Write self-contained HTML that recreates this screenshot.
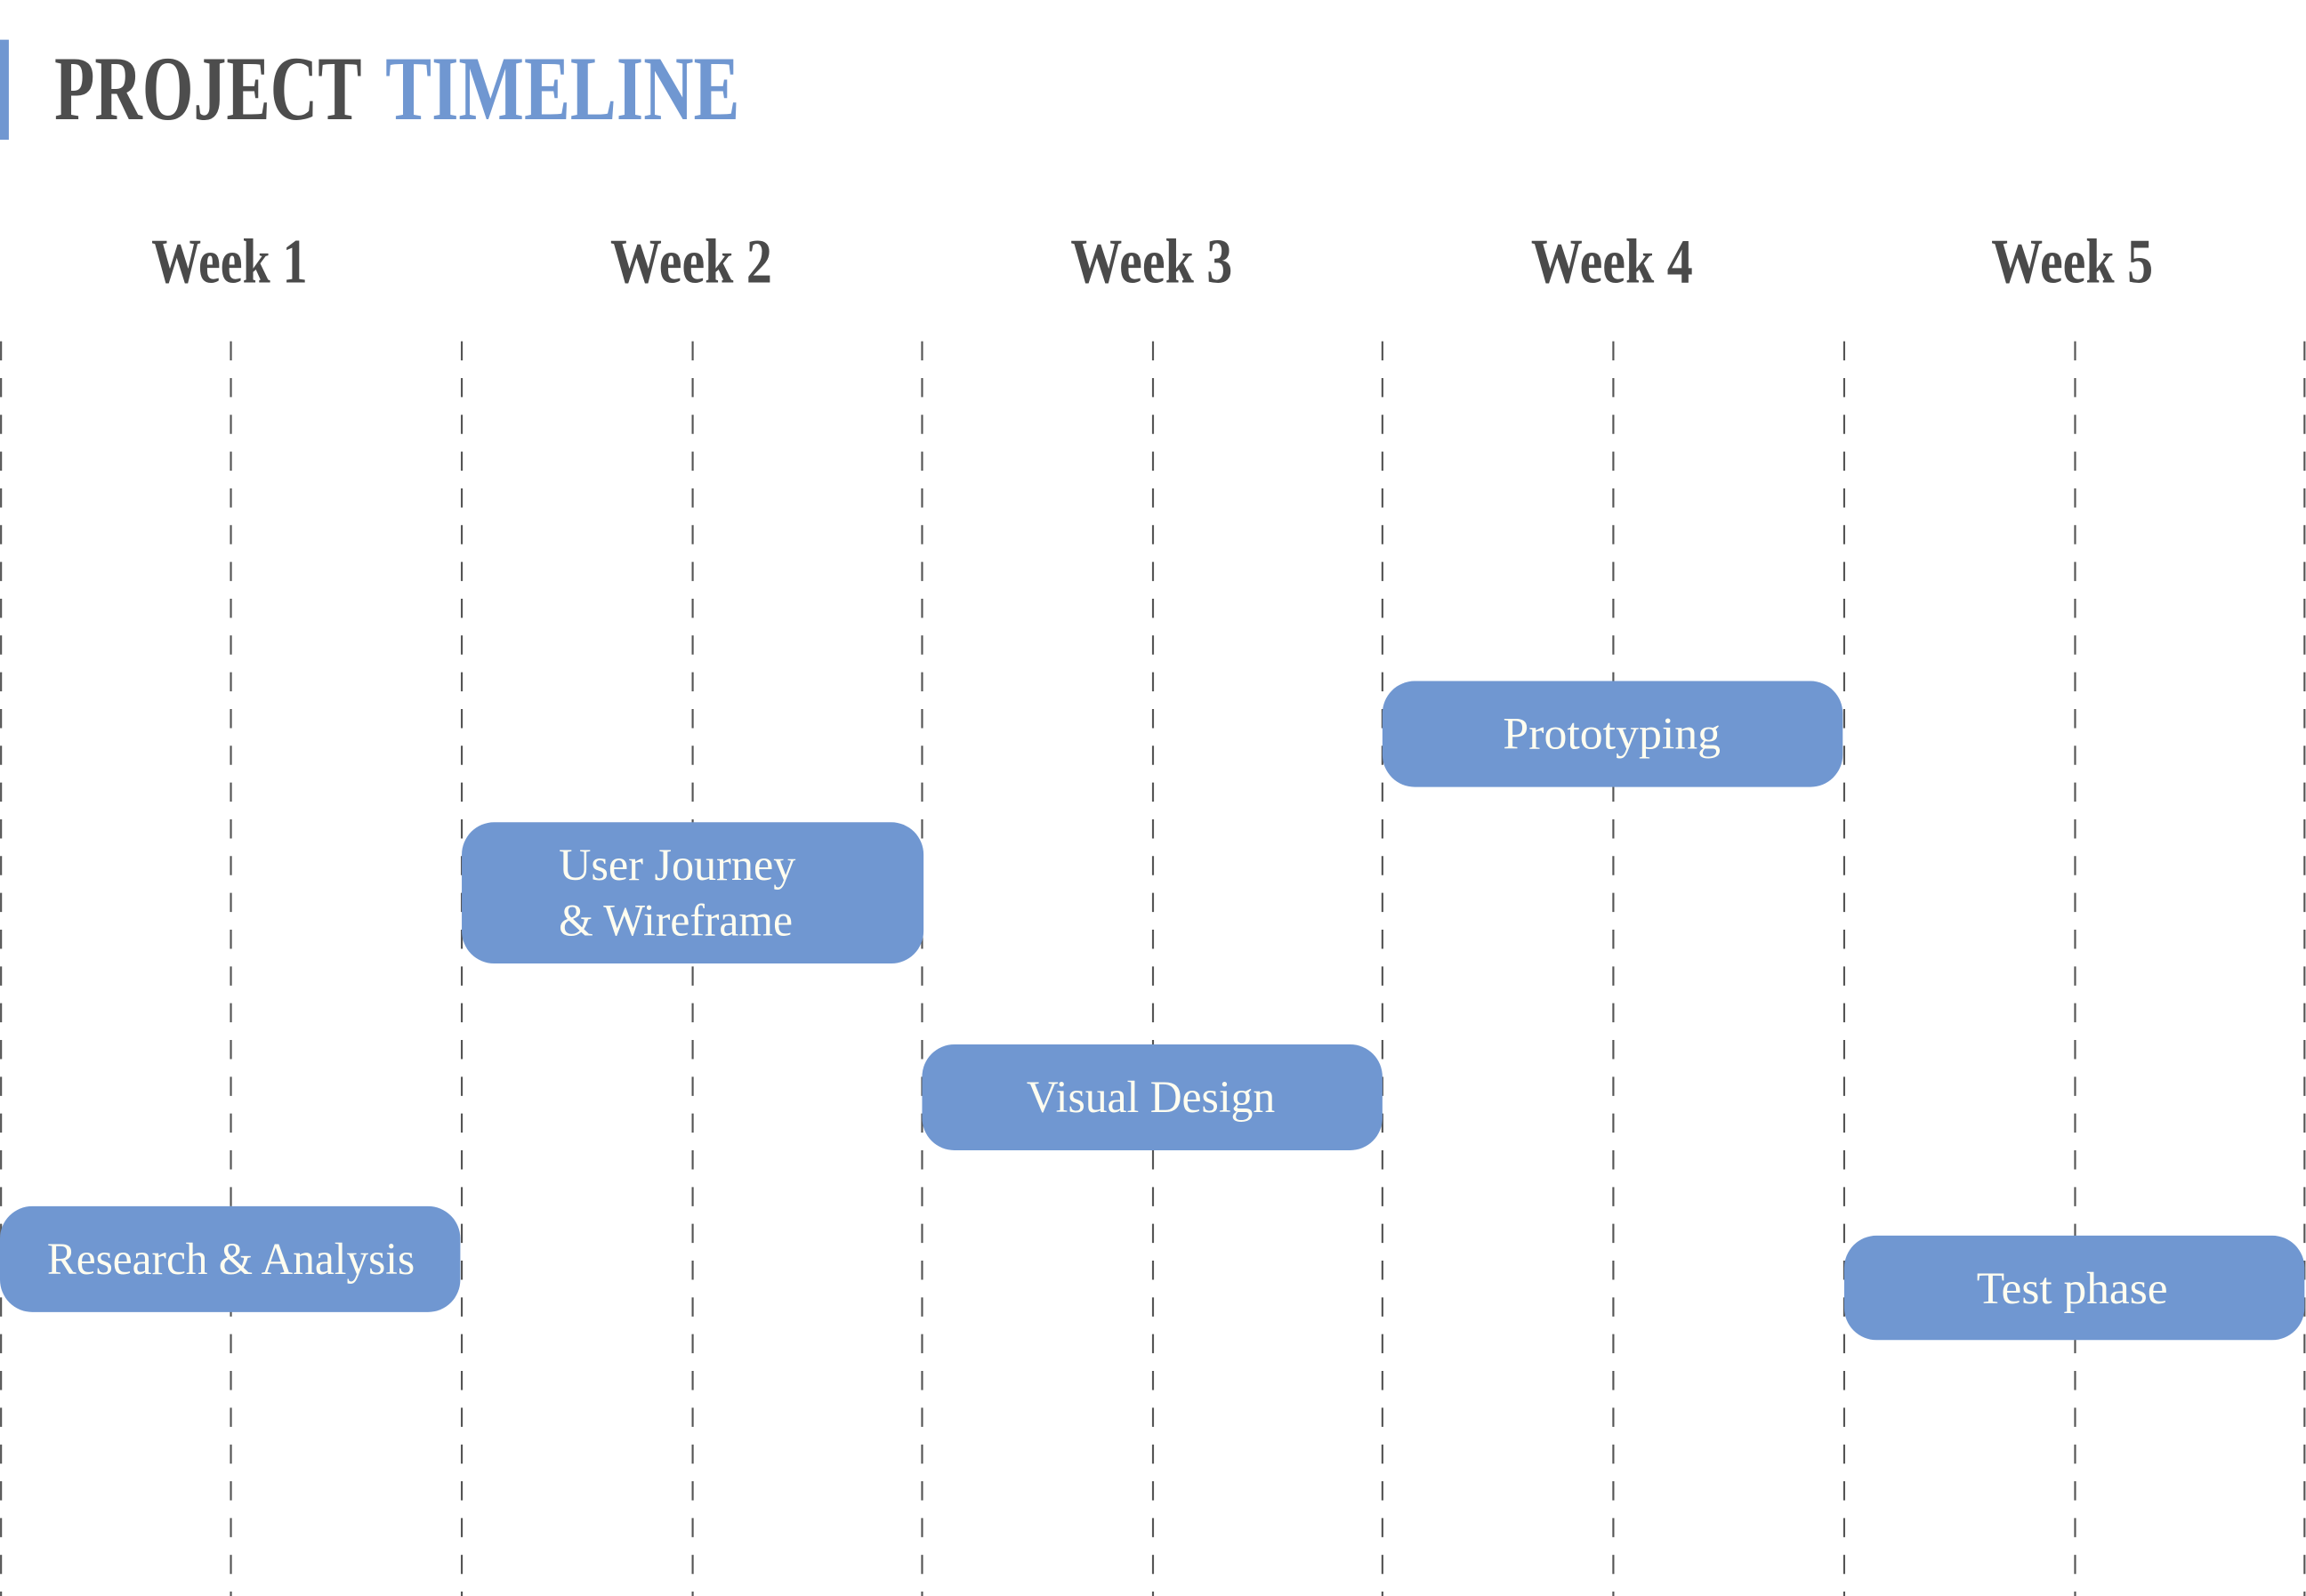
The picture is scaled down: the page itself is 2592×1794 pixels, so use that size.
<!DOCTYPE html>
<html><head><meta charset="utf-8"><style>
html,body{margin:0;padding:0;background:#fff;}
svg{display:block;}
</style></head><body>
<svg width="2592" height="1794" viewBox="0 0 1568 1085" preserveAspectRatio="none" xmlns="http://www.w3.org/2000/svg">
<rect x="0" y="0" width="1568" height="1085" fill="#fff"/>
<rect x="0" y="27" width="6" height="68" fill="#7097d1"/>
<g font-family="Liberation Serif, serif">
<text x="37" y="81" font-size="62" font-weight="bold" fill="#4d4d4d" textLength="209" lengthAdjust="spacingAndGlyphs">PROJECT</text>
<text x="262" y="81" font-size="62" font-weight="bold" fill="#7097d1" textLength="241" lengthAdjust="spacingAndGlyphs">TIMELINE</text>
<g font-size="43" fill="#4a4a4a" font-weight="bold">
<text x="103" y="192" textLength="106" lengthAdjust="spacingAndGlyphs">Week 1</text>
<text x="415" y="192" textLength="110" lengthAdjust="spacingAndGlyphs">Week 2</text>
<text x="728" y="192" textLength="110" lengthAdjust="spacingAndGlyphs">Week 3</text>
<text x="1041" y="192" textLength="110" lengthAdjust="spacingAndGlyphs">Week 4</text>
<text x="1354" y="192" textLength="110" lengthAdjust="spacingAndGlyphs">Week 5</text>
</g>
</g>
<g stroke="#555" stroke-width="1.3" stroke-dasharray="13 12">
<line x1="0.7" y1="232" x2="0.7" y2="1085"/>
<line x1="157" y1="232" x2="157" y2="1085"/>
<line x1="314" y1="232" x2="314" y2="1085"/>
<line x1="471" y1="232" x2="471" y2="1085"/>
<line x1="627" y1="232" x2="627" y2="1085"/>
<line x1="784" y1="232" x2="784" y2="1085"/>
<line x1="940" y1="232" x2="940" y2="1085"/>
<line x1="1097" y1="232" x2="1097" y2="1085"/>
<line x1="1254" y1="232" x2="1254" y2="1085"/>
<line x1="1411" y1="232" x2="1411" y2="1085"/>
<line x1="1567" y1="232" x2="1567" y2="1085"/>
</g>
<g fill="#7097d1">
<rect x="0" y="820" width="313" height="72" rx="22"/>
<rect x="314" y="559" width="314" height="96" rx="22"/>
<rect x="627" y="710" width="313" height="72" rx="22"/>
<rect x="940" y="463" width="313" height="72" rx="22"/>
<rect x="1254" y="840" width="313" height="71" rx="22"/>
</g>
<g font-family="Liberation Serif, serif" font-size="31" fill="#fffdf0">
<text x="32" y="866" textLength="250" lengthAdjust="spacingAndGlyphs">Research &amp; Analysis</text>
<text x="380" y="598" textLength="161" lengthAdjust="spacingAndGlyphs">User Journey</text>
<text x="380" y="636" textLength="159" lengthAdjust="spacingAndGlyphs">&amp; Wireframe</text>
<text x="698" y="756" textLength="169" lengthAdjust="spacingAndGlyphs">Visual Design</text>
<text x="1022" y="509" textLength="148" lengthAdjust="spacingAndGlyphs">Prototyping</text>
<text x="1344" y="886" textLength="130" lengthAdjust="spacingAndGlyphs">Test phase</text>
</g>
</svg>
</body></html>
